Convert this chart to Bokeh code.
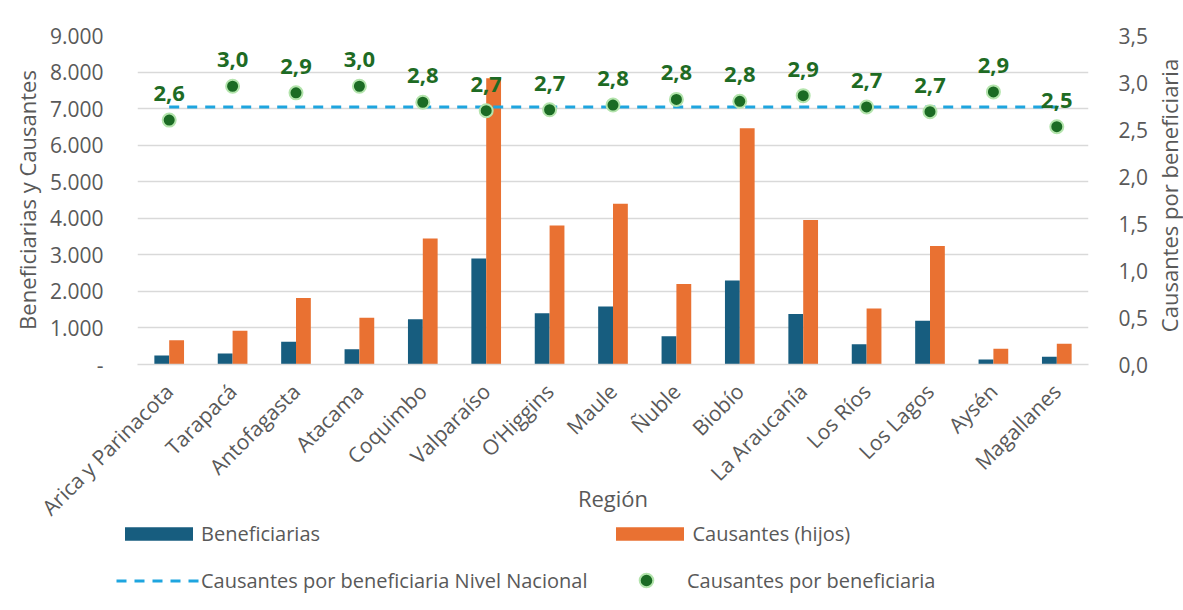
import math
from bokeh.plotting import figure
from bokeh.layouts import column, row
from bokeh.models import (FactorRange, Range1d, LinearAxis, FixedTicker, Legend,
                          LegendItem, ColumnDataSource)
from bokeh.transform import dodge
from bokeh.core.properties import value
from bokeh.embed import file_html
from bokeh.resources import INLINE

# ---------------- data ----------------
regiones = ["Arica y Parinacota", "Tarapacá", "Antofagasta", "Atacama", "Coquimbo",
            "Valparaíso", "O’Higgins", "Maule", "Ñuble", "Biobío", "La Araucanía",
            "Los Ríos", "Los Lagos", "Aysén", "Magallanes"]
beneficiarias = [245, 300, 620, 420, 1240, 2900, 1400, 1590, 775, 2300, 1380, 555, 1200, 135, 215]
causantes = [660, 920, 1820, 1280, 3450, 7830, 3800, 4400, 2200, 6460, 3950, 1530, 3240, 430, 570]
ratio = [2.60, 2.96, 2.89, 2.96, 2.79, 2.70, 2.71, 2.76, 2.82, 2.80, 2.86, 2.74, 2.69, 2.90, 2.53]
nacional = 2.74
left_ticks = [0, 1000, 2000, 3000, 4000, 5000, 6000, 7000, 8000, 9000]
right_ticks = [0, 0.5, 1, 1.5, 2, 2.5, 3, 3.5]
series_names = ["Beneficiarias", "Causantes (hijos)",
                "Causantes por beneficiaria Nivel Nacional", "Causantes por beneficiaria"]
right_title = "Causantes por beneficiaria"

labels = [f"{r:.1f}".replace(".", ",") for r in ratio]

src = ColumnDataSource(dict(region=regiones, benef=beneficiarias, caus=causantes,
                            ratio=ratio, nac=[nacional] * len(regiones), lbl=labels))

FONT = "Open Sans"
GRAY = "#595959"
C_BEN = "#175d7f"
C_CAU = "#e97132"
C_NAC = "#1ea5df"
C_DOT = "#1b6b24"
C_DOT_EDGE = "#b3e4ac"

W_MAIN = 1153
H_MAIN = 520
H_LEG = 610 - H_MAIN


def draw_series(fig, y_name, visible=True):
    rb = fig.vbar(x=dodge("region", -0.117, range=fig.x_range), top="benef", width=0.234,
                  source=src, fill_color=C_BEN, line_color=None, visible=visible)
    rc = fig.vbar(x=dodge("region", 0.117, range=fig.x_range), top="caus", width=0.234,
                  source=src, fill_color=C_CAU, line_color=None, visible=visible)
    rn = fig.line(x="region", y="nac", source=src, y_range_name=y_name,
                  line_color=C_NAC, line_width=3, line_dash="10 8", visible=visible)
    rr = fig.scatter(x="region", y="ratio", source=src, y_range_name=y_name, size=13,
                     fill_color=C_DOT, line_color=C_DOT_EDGE, line_width=2, visible=visible)
    return [rb, rc, rn, rr]


def bare(fig):
    fig.frame_align = False
    fig.axis.visible = False
    fig.grid.grid_line_color = None
    fig.outline_line_color = None


# ---------------- main chart ----------------
p = figure(x_range=FactorRange(*regiones), y_range=Range1d(0, 9000),
           width=W_MAIN, height=H_MAIN, output_backend="svg", toolbar_location=None,
           min_border_left=137, min_border_right=W_MAIN - 1088, min_border_top=35,
           min_border_bottom=H_MAIN - 364)
p.frame_align = False
p.extra_y_ranges = {"ratio": Range1d(0, 3.5)}

draw_series(p, "ratio")
p.text(x="region", y="ratio", text="lbl", source=src, y_range_name="ratio",
       text_align="center", text_baseline="bottom", y_offset=-19,
       text_font=value(FONT), text_font_size="22px", text_font_style="bold",
       text_color="#1e6b24")

p.yaxis.ticker = FixedTicker(ticks=left_ticks)
p.yaxis.major_label_overrides = {t: ("-" if t == 0 else f"{t:,}".replace(",", ".")) for t in left_ticks}
p.yaxis.axis_label = "Beneficiarias y Causantes"
p.yaxis.major_label_standoff = 28
p.yaxis.axis_label_standoff = 5

right = LinearAxis(y_range_name="ratio", ticker=FixedTicker(ticks=right_ticks))
right.major_label_overrides = {t: f"{t:.1f}".replace(".", ",") for t in right_ticks}
right.major_label_standoff = 24
p.add_layout(right, "right")

p.xaxis.axis_label = "Región"
p.xaxis.major_label_orientation = math.pi / 4
p.xaxis.major_label_standoff = 17
p.xaxis.axis_label_standoff = -51
p.xaxis.axis_line_color = "#d9d9d9"
p.xaxis.axis_line_width = 1.5

for ax in [p.xaxis[0], p.yaxis[0], right]:
    ax.major_tick_line_color = None
    ax.minor_tick_line_color = None
    ax.major_label_text_font = FONT
    ax.major_label_text_font_size = "21px"
    ax.major_label_text_color = GRAY
    ax.axis_label_text_font = FONT
    ax.axis_label_text_font_style = "normal"
    ax.axis_label_text_color = GRAY
    ax.axis_label_text_font_size = "22px"
for ax in [p.yaxis[0], right]:
    ax.axis_line_color = None

p.xgrid.grid_line_color = None
p.ygrid.grid_line_color = "#d9d9d9"
p.ygrid.grid_line_width = 1.5
p.outline_line_color = None

# ---------------- legend strip (same series, hidden; only the legend shows) ----------------
lg = figure(width=W_MAIN, height=H_LEG, output_backend="svg", toolbar_location=None,
            x_range=FactorRange(*regiones), y_range=Range1d(0, 9000),
            min_border=0, min_border_left=0, min_border_right=0,
            min_border_top=0, min_border_bottom=0)
lg.extra_y_ranges = {"ratio": Range1d(0, 3.5)}
bare(lg)
lg_r = draw_series(lg, "ratio", visible=False)

common = dict(orientation="horizontal", padding=0, margin=0, border_line_color=None,
              background_fill_alpha=0, inactive_fill_alpha=0,
              label_text_font=FONT, label_text_font_size="20px", label_text_color=GRAY)
legend_a = Legend(items=[LegendItem(label=n, renderers=[r]) for n, r in zip(series_names[:3], lg_r[:3])],
                  location=(116, 16), ncols=2, glyph_width=85, glyph_height=17,
                  label_standoff=0, label_width=383, label_height=27, spacing=20, **common)
legend_b = Legend(items=[LegendItem(label=series_names[3], renderers=[lg_r[3]])],
                  location=(629, 13), glyph_width=34, glyph_height=34,
                  label_standoff=24, label_height=34, spacing=0, **common)
lg.add_layout(legend_a, "center")
lg.add_layout(legend_b, "center")

# ---------------- right axis title strip ----------------
tf = figure(width=1183 - W_MAIN, height=610, output_backend="svg", toolbar_location=None,
            x_range=Range1d(0, 1183 - W_MAIN), y_range=Range1d(0, 610),
            min_border=0, min_border_left=0, min_border_right=0,
            min_border_top=0, min_border_bottom=0)
bare(tf)
tf.text(x=[(1183 - W_MAIN) / 2], y=[610 - 195], text=[right_title], angle=math.pi / 2,
        text_align="center", text_baseline="middle", text_font=value(FONT),
        text_font_size="22px", text_color=GRAY)

layout = row(column(p, lg, spacing=0), tf, spacing=0)
open("out.html", "w").write(file_html(layout, INLINE))
